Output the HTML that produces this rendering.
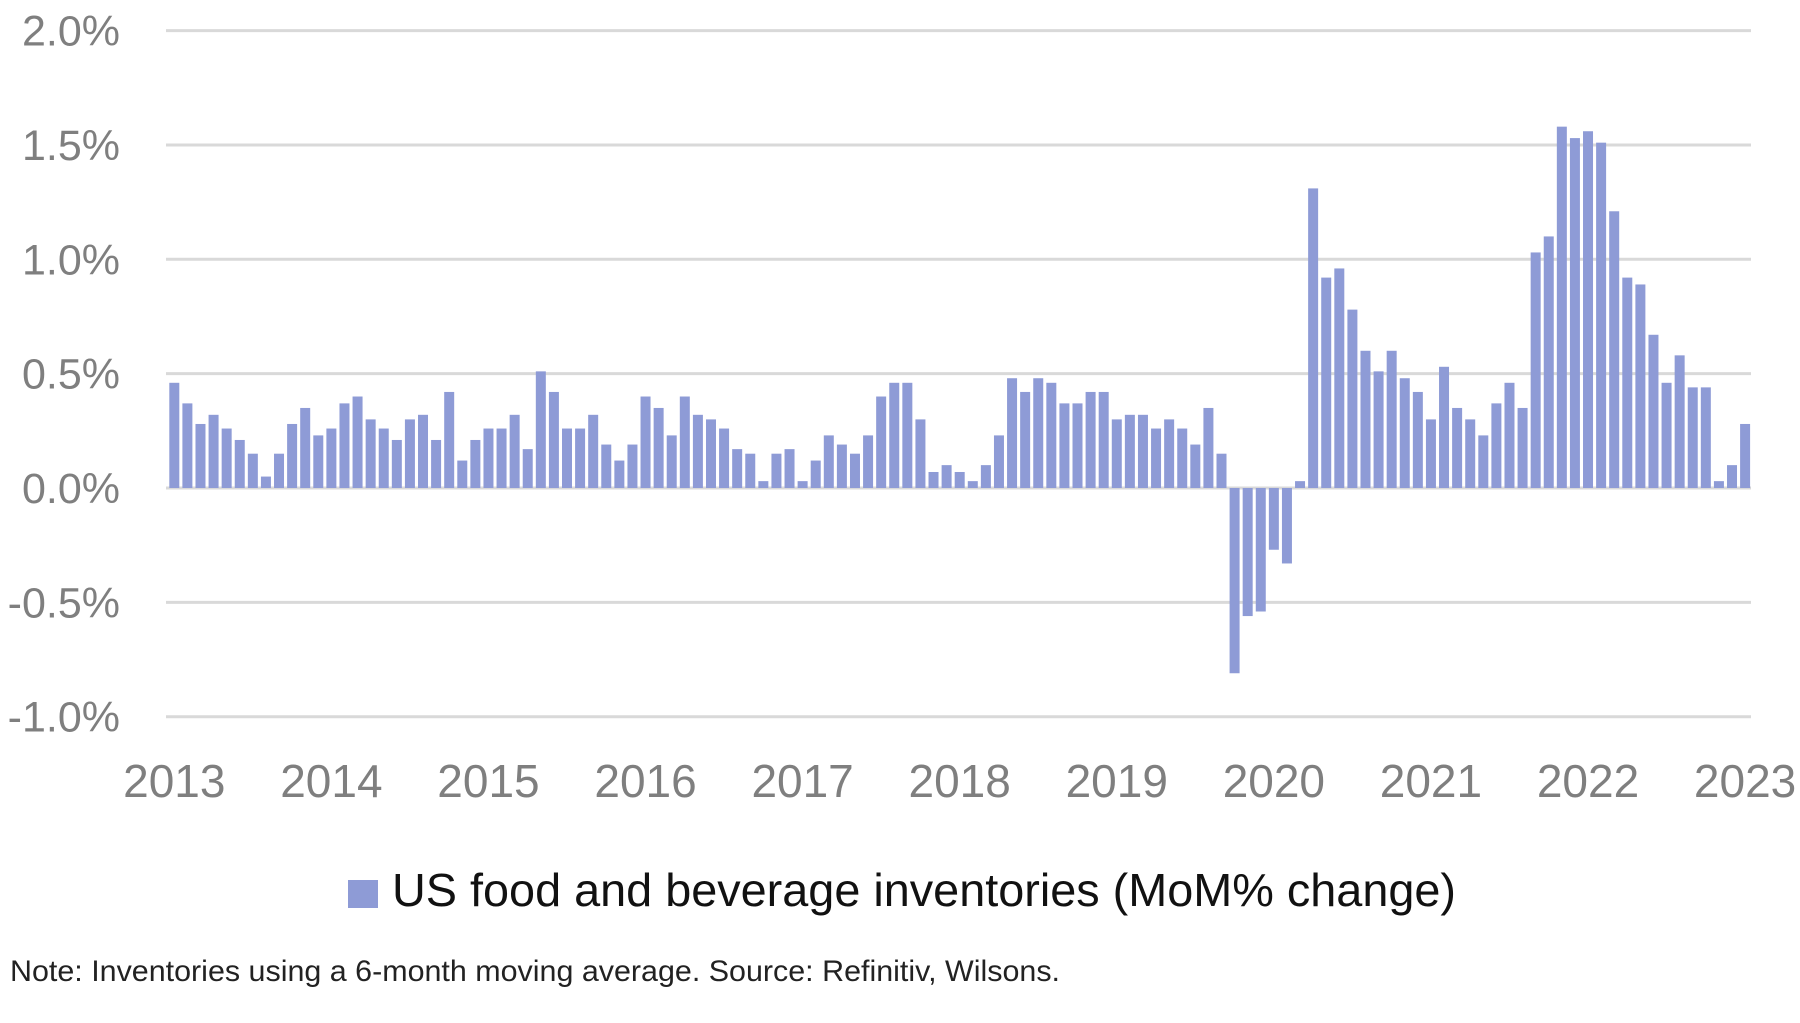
<!DOCTYPE html>
<html><head><meta charset="utf-8"><style>
html,body{margin:0;padding:0;background:#fff;width:1800px;height:1023px;overflow:hidden}
svg text{font-family:"Liberation Sans",sans-serif}
</style></head><body>
<svg id="chart" width="1800" height="1023" viewBox="0 0 1800 1023" xmlns="http://www.w3.org/2000/svg">
<g id="grid"></g>
<g id="ylab"></g>
<g id="bars"></g>
<g id="xlab"></g>
<g>
<rect x="348" y="880" width="30" height="28" fill="#8e9bd6"/>
<text x="392" y="906" font-size="46" fill="#111" textLength="1064" lengthAdjust="spacingAndGlyphs">US food and beverage inventories (MoM% change)</text>
</g>
<text x="10" y="981" font-size="30" fill="#222" textLength="1050" lengthAdjust="spacingAndGlyphs">Note: Inventories using a 6-month moving average. Source: Refinitiv, Wilsons.</text>
</svg>
<script>
const values = [0.46,0.37,0.28,0.32,0.26,0.21,0.15,0.05,0.15,0.28,0.35,0.23,
0.26,0.37,0.40,0.30,0.26,0.21,0.30,0.32,0.21,0.42,0.12,0.21,
0.26,0.26,0.32,0.17,0.51,0.42,0.26,0.26,0.32,0.19,0.12,0.19,
0.40,0.35,0.23,0.40,0.32,0.30,0.26,0.17,0.15,0.03,0.15,0.17,
0.03,0.12,0.23,0.19,0.15,0.23,0.40,0.46,0.46,0.30,0.07,0.10,
0.07,0.03,0.10,0.23,0.48,0.42,0.48,0.46,0.37,0.37,0.42,0.42,
0.30,0.32,0.32,0.26,0.30,0.26,0.19,0.35,0.15,-0.81,-0.56,-0.54,
-0.27,-0.33,0.03,1.31,0.92,0.96,0.78,0.60,0.51,0.60,0.48,0.42,
0.30,0.53,0.35,0.30,0.23,0.37,0.46,0.35,1.03,1.10,1.58,1.53,
1.56,1.51,1.21,0.92,0.89,0.67,0.46,0.58,0.44,0.44,0.03,0.10,0.28];
const yTicks = [2.0,1.5,1.0,0.5,0.0,-0.5,-1.0];
const yTickLabels = ["2.0%","1.5%","1.0%","0.5%","0.0%","-0.5%","-1.0%"];
const years = ["2013","2014","2015","2016","2017","2018","2019","2020","2021","2022","2023"];

const NS="http://www.w3.org/2000/svg";
const y0=488, pxPer=228.7, xL=166, xR=1751, x0=169.3, step=13.09, bw=10;
function yS(v){return y0 - v*pxPer;}
function xS(i){return x0 + i*step;}
function mk(tag,attrs,parent){const e=document.createElementNS(NS,tag);for(const k in attrs)e.setAttribute(k,attrs[k]);parent.appendChild(e);return e;}
const grid=document.getElementById('grid'),ylab=document.getElementById('ylab'),bars=document.getElementById('bars'),xlab=document.getElementById('xlab');
yTicks.forEach((t,k)=>{
  const l=mk('line',{x1:xL,x2:xR,y1:yS(t),y2:yS(t),stroke:'#d9d9d9','stroke-width':3},grid);
  
  
  const tx=mk('text',{x:120,y:yS(t)+15,'text-anchor':'end','font-size':43,fill:'#7f7f7f'},ylab);
  tx.textContent=yTickLabels[k];
  
  
});
values.forEach((v,i)=>{
  const top=Math.min(yS(v),y0), h=Math.abs(yS(v)-y0);
  const r=mk('rect',{x:xS(i),y:top,width:bw,height:Math.max(h,1),fill:'#8e9bd6'},bars);
  
  
});
years.forEach((yr,k)=>{
  const tx=mk('text',{x:xS(k*12)+5,y:797,'text-anchor':'middle','font-size':46,fill:'#7f7f7f'},xlab);
  tx.textContent=yr;
  
  
});
</script>
</body></html>
